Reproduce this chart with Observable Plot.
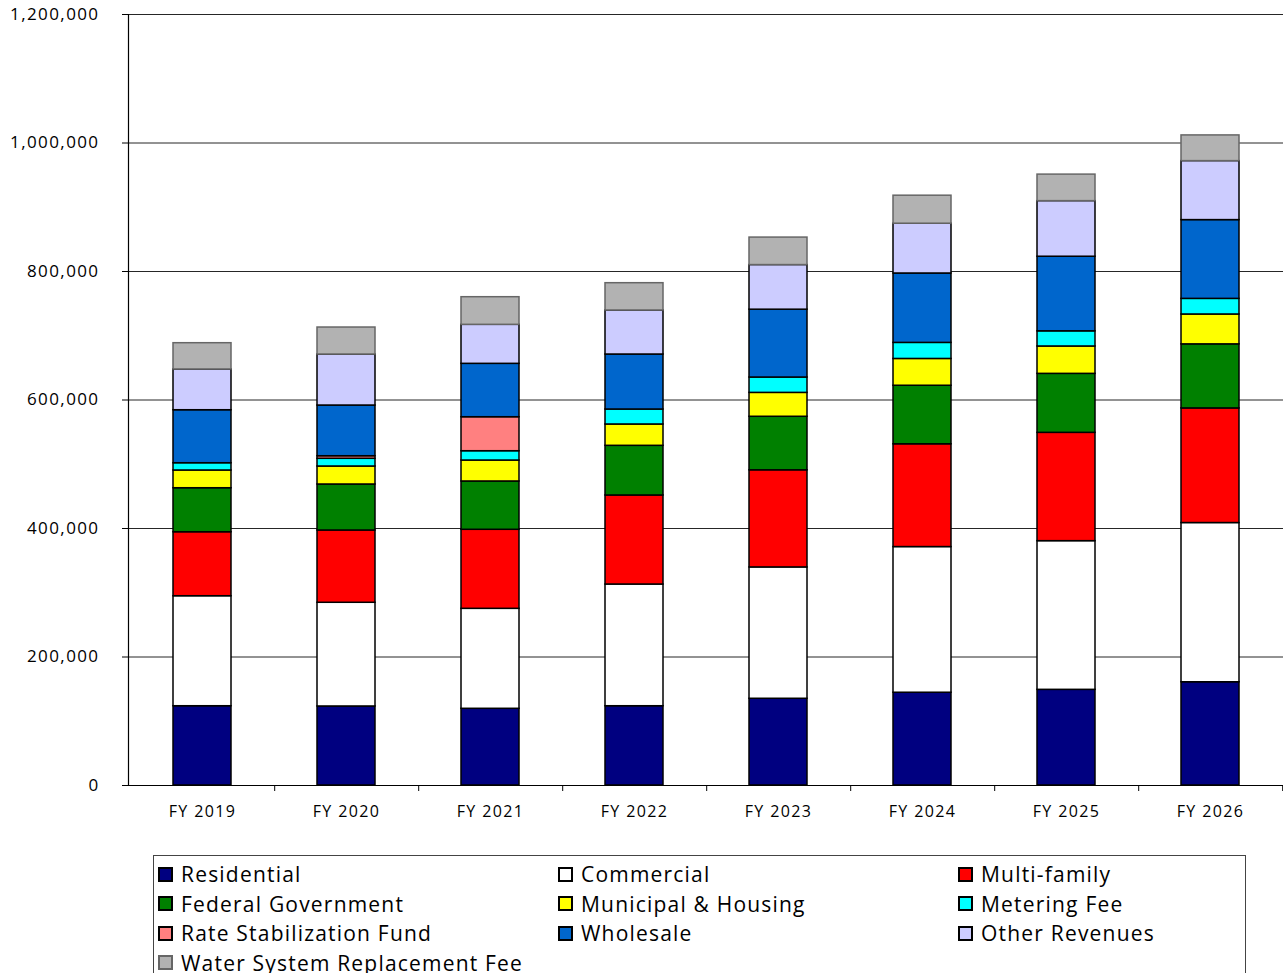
<!DOCTYPE html>
<html>
<head>
<meta charset="utf-8">
<script src="https://cdn.jsdelivr.net/npm/d3@7"></script>
<script src="https://cdn.jsdelivr.net/npm/@observablehq/plot@0.6"></script>
<style>
  html, body { margin: 0; padding: 0; background: #fff; }
  #wrap { position: relative; width: 1283px; height: 973px; overflow: hidden; }
  #legend { position: absolute; left: 153px; top: 855px; width: 1093px; height: 140px;
    border: 1px solid #444; box-sizing: border-box; font-family: "Open Sans", sans-serif; font-size: 21px; letter-spacing: 1.2px; }
  .item { position: absolute; display: flex; align-items: center; white-space: nowrap; color: #000; }
  .sw { width: 15px; height: 15px; border: 2px solid #000; box-sizing: border-box; margin-right: 8px; }
</style>
</head>
<body>
<div id="wrap">
  <div id="chart"></div>
  <div id="legend"></div>
</div>
<script>
const years = ["FY 2019","FY 2020","FY 2021","FY 2022","FY 2023","FY 2024","FY 2025","FY 2026"];
const seriesNames = ["Residential","Commercial","Multi-family","Federal Government","Municipal & Housing","Metering Fee","Rate Stabilization Fund","Wholesale","Other Revenues","Water System Replacement Fee"];
const seriesColors = ["#000080","#ffffff","#ff0000","#008000","#ffff00","#00ffff","#ff8080","#0066cc","#ccccff","#b2b2b2"];
const seriesStrokes = ["#000","#000","#000","#000","#000","#000","#000","#000","#000","#666"];

const residential = [123400,123000,119400,123400,135000,144400,148900,160700];
const commercial  = [171200,161400,155600,189400,204400,226700,231400,247800];
const multiFamily = [99600,112500,123000,138600,151200,160000,168600,178400];
const federalGov  = [68500,71600,75200,77300,83300,91100,91800,99700];
const municipal   = [27600,28000,32600,33200,37200,41700,42600,46500];
const meteringFee = [11300,12000,14500,23300,23900,25000,23600,24300];
const rateStab    = [0,4000,52900,0,0,0,0,0];
const wholesale   = [82500,78900,83100,85600,105600,108000,116100,122600];
const otherRev    = [63400,79400,60700,68500,69400,77500,86500,91800];
const wsrFee      = [40900,42000,43000,42500,42800,43600,41300,40000];
const yTicks = [0,200000,400000,600000,800000,1000000,1200000];

const seriesValues = [residential,commercial,multiFamily,federalGov,municipal,meteringFee,rateStab,wholesale,otherRev,wsrFee];

const data = [];
years.forEach((yr, i) => {
  seriesNames.forEach((s, j) => {
    const v = seriesValues[j][i];
    if (v > 0) data.push({year: yr, series: s, value: v, fill: seriesColors[j], stroke: seriesStrokes[j]});
  });
});

const font = "'Open Sans', sans-serif";
const chart = Plot.plot({
  width: 1283,
  height: 830,
  marginLeft: 128,
  marginRight: 0,
  marginTop: 14,
  marginBottom: 45,
  style: {fontFamily: font, background: "#fff", color: "#000", letterSpacing: "1.4px"},
  x: {domain: years, paddingInner: 0.6, paddingOuter: 0.3, label: null},
  y: {domain: [0, 1200000], label: null},
  color: {type: "identity"},
  marks: [
    Plot.gridY(yTicks, {stroke: "#000", strokeOpacity: 0.85, strokeWidth: 1}),
    Plot.axisY(yTicks, {tickFormat: d3.format(","), tickSize: 6, tickPadding: 23, fontSize: 17, label: null, stroke: "#000"}),
    Plot.axisX({tickSize: 0, tickPadding: 20, fontSize: 16, label: null}),
    Plot.ruleX(years, {x: d => d, dx: 1155 / 16, y1: 0, y2: 0, insetBottom: -6, stroke: "#000"}),
    Plot.frame({anchor: "left", stroke: "#000", strokeWidth: 1.2}),
    Plot.barY(data, {x: "year", y: "value", fill: "fill", stroke: "stroke", strokeWidth: 1.5, title: d => `${d.series}: ${d.value}`}),
    Plot.ruleY([0], {stroke: "#000", strokeWidth: 1.2})
  ]
});
document.getElementById("chart").appendChild(chart);

const legend = document.getElementById("legend");
seriesNames.forEach((s, j) => {
  const col = j % 3, row = Math.floor(j / 3);
  const item = document.createElement("div");
  item.className = "item";
  item.style.left = (4 + col * 400) + "px";
  item.style.top = (4 + row * 29.5) + "px";
  const sw = document.createElement("div");
  sw.className = "sw";
  sw.style.background = seriesColors[j];
  if (j === 9) sw.style.borderColor = "#666";
  const t = document.createElement("span");
  t.textContent = s;
  item.appendChild(sw);
  item.appendChild(t);
  legend.appendChild(item);
});
</script>
</body>
</html>
